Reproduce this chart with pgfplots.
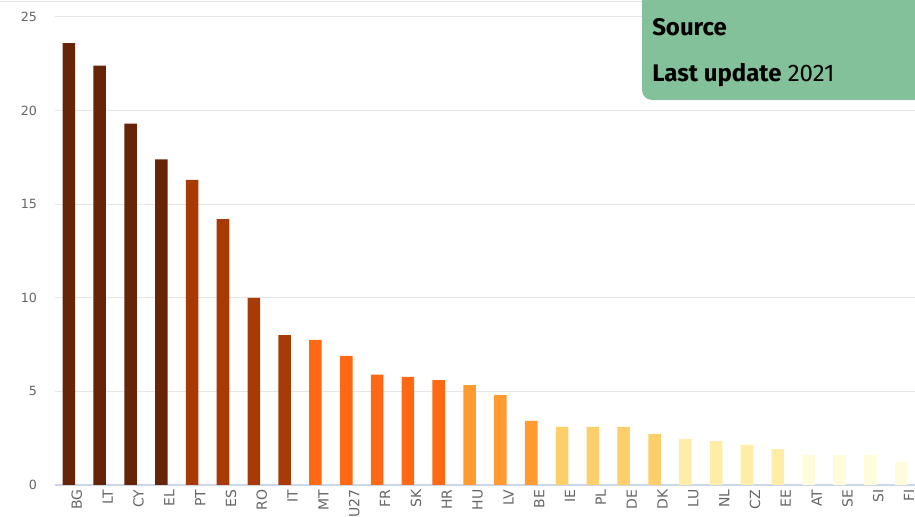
\documentclass[border=0pt]{standalone}
\usepackage{pgfplots}
\pgfplotsset{compat=1.18}
\usepackage{fontspec}
\setmainfont{DejaVu Sans}
\newfontfamily\boxfont{Fira Sans}
\definecolor{c1}{HTML}{662506}
\definecolor{c2}{HTML}{A83B05}
\definecolor{c3}{HTML}{FF6914}
\definecolor{c4}{HTML}{FE9A30}
\definecolor{c5}{HTML}{FDCF6A}
\definecolor{c6}{HTML}{FEEDA6}
\definecolor{c7}{HTML}{FFFCDC}
\definecolor{gridgrey}{HTML}{E6E6E6}
\definecolor{axisblue}{HTML}{CCD6EB}
\definecolor{labgrey}{HTML}{666666}
\definecolor{boxgreen}{HTML}{82C19A}
\begin{document}
\begin{tikzpicture}
\begin{axis}[
  at={(41.25pt,24pt)}, anchor=south west, scale only axis,
  width=645pt, height=351pt,
  xmin=-0.45, xmax=27.45, ymin=0, ymax=25,
  ytick={0,5,...,25},
  xtick={0,...,27},
  xticklabels={BG,LT,CY,EL,PT,ES,RO,IT,MT,EU27,FR,SK,HR,HU,LV,BE,IE,PL,DE,DK,LU,NL,CZ,EE,AT,SE,SI,FI},
  /pgf/number format/assume math mode=true,
  x tick label style={rotate=90, anchor=east, yshift=-6pt, font=\fontsize{10.5}{12}\selectfont, text=labgrey},
  y tick label style={anchor=east, xshift=-10pt, font=\fontsize{9.5}{12}\selectfont, text=labgrey},
  ymajorgrids, grid style={gridgrey, line width=0.75pt},
  axis x line*=bottom, axis y line*=left,
  y axis line style={draw=none},
  x axis line style={axisblue, line width=0.9pt},
  major tick length=0pt, tick style={draw=none},
  ybar, bar width=9.4pt,
]
\addplot[fill=c1, draw=none, bar shift=0pt] coordinates {(0,23.6) (1,22.4) (2,19.3) (3,17.4)};
\addplot[fill=c2, draw=none, bar shift=0pt] coordinates {(4,16.3) (5,14.2) (6,10.0) (7,8.0)};
\addplot[fill=c3, draw=none, bar shift=0pt] coordinates {(8,7.75) (9,6.9) (10,5.9) (11,5.77) (12,5.6)};
\addplot[fill=c4, draw=none, bar shift=0pt] coordinates {(13,5.34) (14,4.8) (15,3.42)};
\addplot[fill=c5, draw=none, bar shift=0pt] coordinates {(16,3.1) (17,3.1) (18,3.1) (19,2.72)};
\addplot[fill=c6, draw=none, bar shift=0pt] coordinates {(20,2.46) (21,2.35) (22,2.14) (23,1.92)};
\addplot[fill=c7, draw=none, bar shift=0pt] coordinates {(24,1.6) (25,1.6) (26,1.6) (27,1.23)};
\end{axis}
\begin{scope}[x=0.75pt,y=0.75pt]
\draw[gridgrey, line width=0.75pt] (0,515) -- (642,515);
\fill[boxgreen, rounded corners=7.5pt] (642,540) -- (642,417) -- (940,417) -- (940,540) -- cycle;
\node[anchor=base west, inner sep=0pt, font=\boxfont\bfseries\fontsize{18}{20}\selectfont] at (652,481) {Source};
\node[anchor=base west, inner sep=0pt, font=\boxfont\fontsize{18}{20}\selectfont] at (652,435) {\textbf{Last update} 2021};
\end{scope}
\pgfresetboundingbox
\useasboundingbox (0,0) rectangle (686.25pt,387.75pt);
\end{tikzpicture}
\end{document}
